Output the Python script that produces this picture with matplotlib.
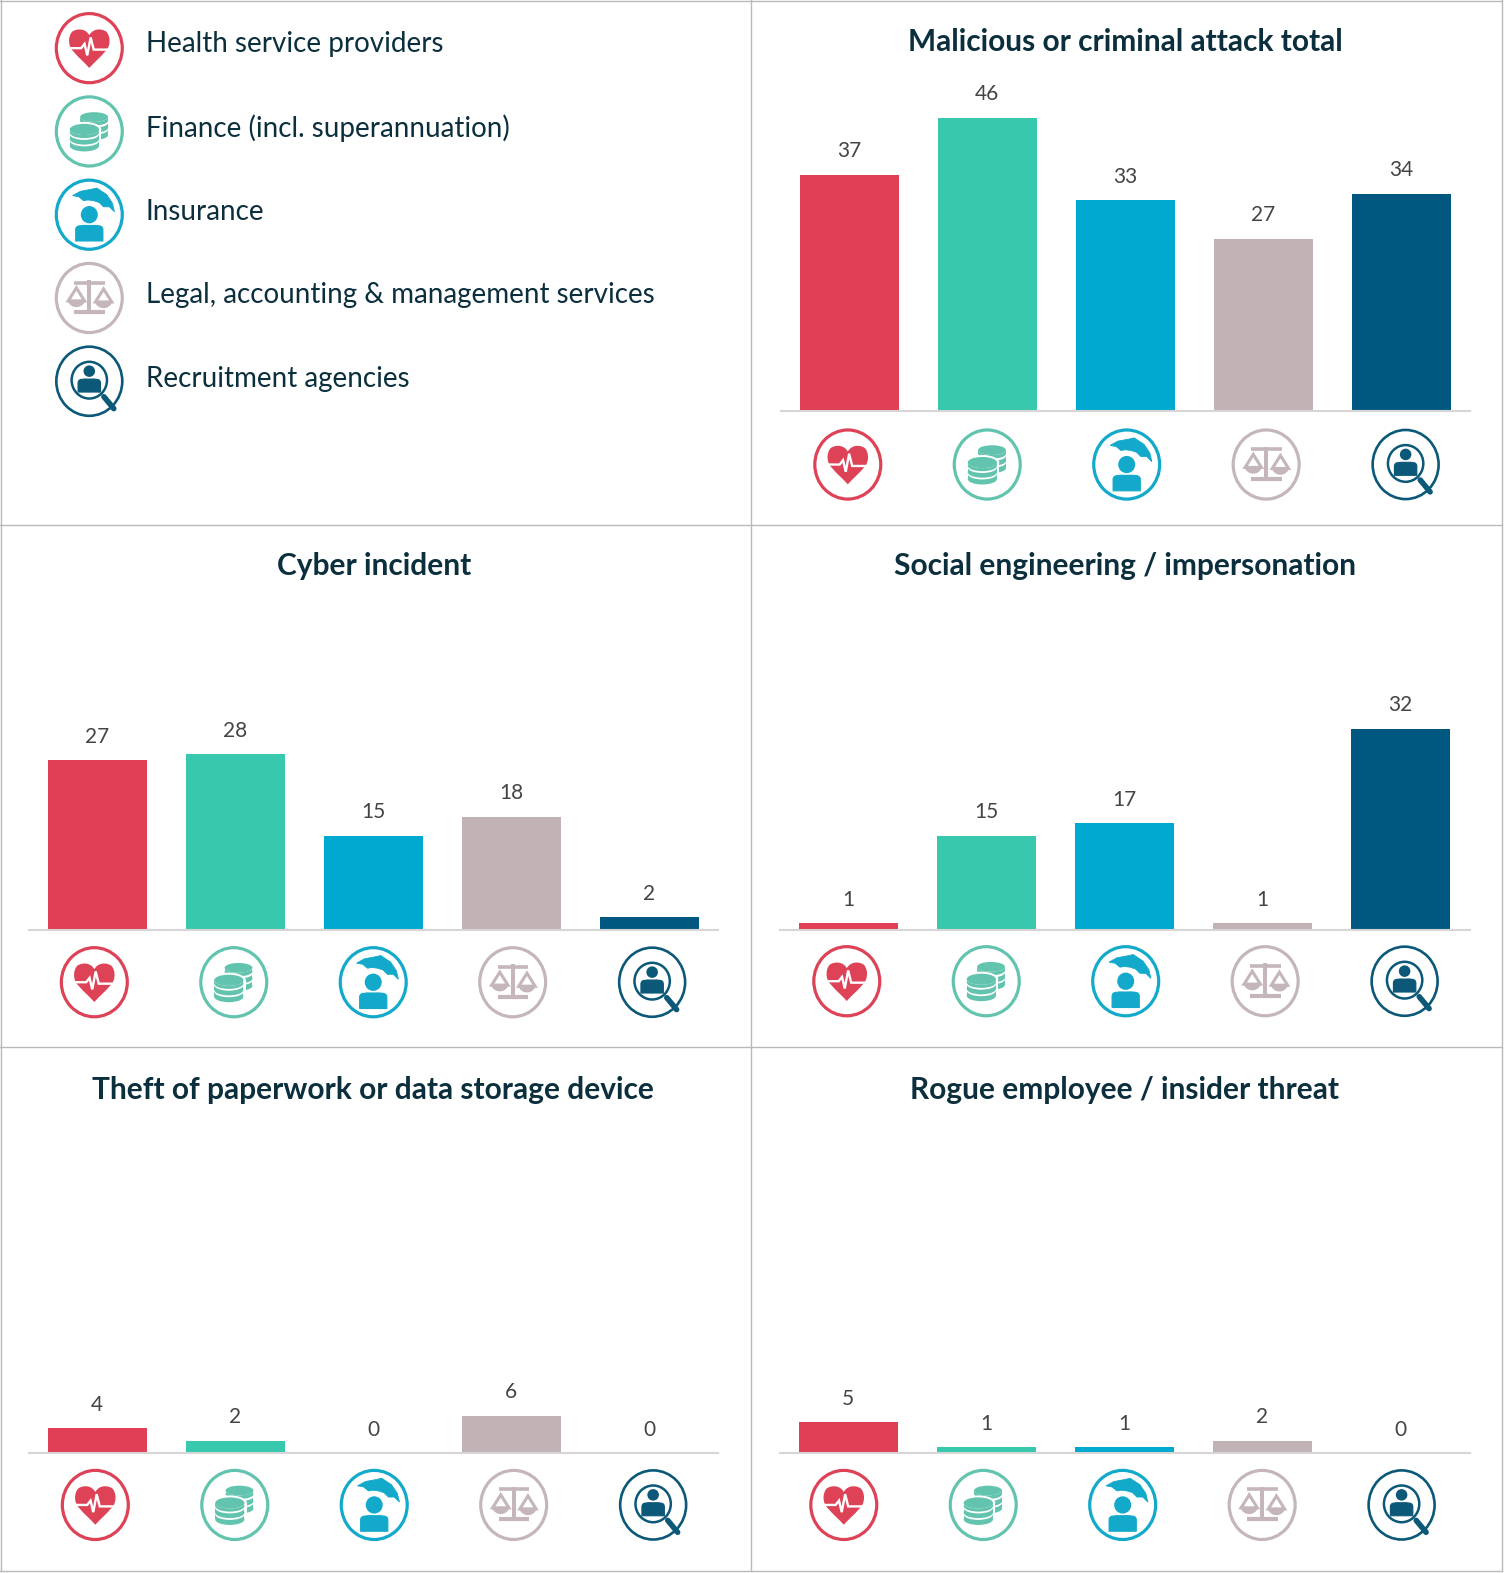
import matplotlib
matplotlib.use("Agg")
import matplotlib.pyplot as plt
from matplotlib.patches import Circle, Ellipse, Polygon, PathPatch, Rectangle
from matplotlib.path import Path

W, H = 1504, 1573
S = 1.0033  # coordinates below were measured on a slightly smaller copy

sectors = ["Health service providers", "Finance (incl. superannuation)", "Insurance",
           "Legal, accounting & management services", "Recruitment agencies"]
colors = ["#e03f55", "#38c8ae", "#00a9d0", "#c0b2b5", "#00577f"]
ring_colors = ["#dd4257", "#62c4ae", "#12a9cb", "#c4b6bb", "#0b5878"]
kinds = ["heart", "coins", "umbrella", "scales", "search"]

titles = ["Malicious or criminal attack total", "Cyber incident", "Social engineering / impersonation",
          "Theft of paperwork or data storage device", "Rogue employee / insider threat"]
malicious = [37, 46, 33, 27, 34]
cyber = [27, 28, 15, 18, 2]
social = [1, 15, 17, 1, 32]
theft = [4, 2, 0, 6, 0]
rogue = [5, 1, 1, 2, 0]
values = [malicious, cyber, social, theft, rogue]

# first bar centre, baseline, axis line start/end, title x/y, px per unit, icon x/y
layout = [
    (846.5, 409.7, 778.5, 1465, 1122, 40, 6.36, 845, 463),
    (97, 926.7, 28.5, 716, 373, 562, 6.25, 94, 979),
    (845.5, 926.7, 777.5, 1465, 1121, 562, 6.25, 844, 978),
    (97, 1448.7, 28.5, 716, 372, 1084, 6.25, 95, 1500),
    (845.5, 1448.7, 777.5, 1465, 1121, 1084, 6.25, 841, 1500),
]
step = 137.5
bar_w = 98.5 / step
icon_step = 139
icon_rx = 34
icon_ry = 36

plt.rcParams["font.family"] = ["Lato", "DejaVu Sans"]
text_col = "#0c2f3e"
fig = plt.figure(figsize=(W / 100, H / 100), dpi=100, facecolor="white")

over = fig.add_axes([0, 0, 1, 1], zorder=5)
over.set_xlim(0, W)
over.set_ylim(H, 0)
over.axis("off")
over.patch.set_alpha(0)


def draw_icon(kind, col, cx, cy, rx, ry):
    ring_lw = 1.9 if kind == "search" else 2.3
    over.add_patch(Ellipse((cx, cy), rx * 1.94, ry * 1.92, fc="white", ec=col, lw=ring_lw))

    def X(x):
        return cx + x * rx

    def Y(y):
        return cy - y * ry

    def poly(pts, fc=col, ec="none", lw=0):
        over.add_patch(Polygon([(X(a), Y(b)) for a, b in pts], closed=True, fc=fc, ec=ec, lw=lw))

    def disc(x, y, w, h, fc=col):
        over.add_patch(Ellipse((X(x), Y(y)), w * rx, h * ry, fc=fc, ec="none"))

    def body(half, top, bottom):
        # flat bottom, rounded shoulders
        pts = [(-half, bottom), (-half, top - 0.12), (-half, top + 0.02), (-half * 0.6, top), (0, top),
               (half * 0.6, top), (half, top + 0.02), (half, top - 0.12), (half, bottom), (-half, bottom)]
        codes = [Path.MOVETO, Path.LINETO, Path.CURVE4, Path.CURVE4, Path.CURVE4, Path.CURVE4, Path.CURVE4,
                 Path.CURVE4, Path.LINETO, Path.CLOSEPOLY]
        over.add_patch(PathPatch(Path([(X(a), Y(b)) for a, b in pts], codes), fc=col, ec=col, lw=0.8, joinstyle="round"))

    def stack(xc, srx, sry, levels):
        # bottom coin first so the white rim of each one shows under the next
        for top, low in reversed(levels):
            disc(xc, low, srx * 2, sry * 2)
            over.add_patch(Rectangle((X(xc - srx), Y(top)), 2 * srx * rx, (top - low) * ry, fc=col, ec="none"))
            disc(xc, top, srx * 2, sry * 2, fc="white")
        disc(xc, levels[0][0], srx * 2, sry * 2)

    if kind == "heart":
        verts = [(0, 0.36), (-0.1, 0.54), (-0.34, 0.56), (-0.5, 0.46), (-0.64, 0.32), (-0.62, 0.04), (-0.48, -0.08),
                 (-0.3, -0.28), (-0.14, -0.4), (0, -0.55), (0.14, -0.4), (0.3, -0.28), (0.48, -0.08),
                 (0.62, 0.04), (0.64, 0.32), (0.5, 0.46), (0.34, 0.56), (0.1, 0.54), (0, 0.36)]
        codes = [Path.MOVETO] + [Path.CURVE4] * 18
        over.add_patch(PathPatch(Path([(X(a), Y(b)) for a, b in verts], codes), fc=col, ec="none"))
        pulse = [(-0.6, 0.0), (-0.24, 0.0), (-0.14, 0.12), (-0.06, -0.2), (0.04, 0.3), (0.13, -0.04), (0.62, -0.04)]
        over.plot([X(a) for a, b in pulse], [Y(b) for a, b in pulse], color="white", lw=1.7, solid_joinstyle="miter")
    elif kind == "coins":
        stack(0.14, 0.41, 0.135, [(0.40, 0.30), (0.24, 0.10), (0.05, -0.10)])
        # white halo so the front stack stands off the back one
        disc(-0.145, 0.055, 1.0, 0.42, fc="white")
        over.add_patch(Rectangle((X(-0.645), Y(0.055)), 1.0 * rx, 0.5 * ry, fc="white", ec="none"))
        stack(-0.145, 0.43, 0.155, [(0.055, -0.03), (-0.08, -0.21), (-0.26, -0.40)])
    elif kind == "umbrella":
        poly([(-0.49, 0.53), (-0.26, 0.65), (0.08, 0.71), (0.22, 0.74), (0.30, 0.69), (0.51, 0.56), (0.68, 0.32),
              (0.74, 0.08), (0.59, 0.22), (0.42, 0.22), (0.29, 0.34), (0.13, 0.39), (-0.04, 0.41), (-0.17, 0.39),
              (-0.31, 0.5)], ec=col, lw=0.6)
        disc(0, 0.0, 0.5, 0.48)
        body(0.40, -0.3, -0.73)
    elif kind == "scales":
        lw = 2.6
        over.plot([X(0), X(0)], [Y(0.5), Y(-0.42)], color=col, lw=lw + 0.3, solid_capstyle="butt")
        over.plot([X(-0.44), X(0.46)], [Y(0.43), Y(0.43)], color=col, lw=lw, solid_capstyle="butt")
        over.plot([X(-0.44), X(0.46)], [Y(-0.4), Y(-0.4)], color=col, lw=lw + 0.4, solid_capstyle="butt")
        for px, dy in [(-0.38, 0.0), (0.42, -0.03)]:
            poly([(px, 0.28 + dy), (px - 0.24, -0.08 + dy), (px + 0.24, -0.08 + dy)], fc="none", ec=col, lw=2.2)
            over.add_patch(PathPatch(Path([(X(px - 0.27), Y(-0.06 + dy)), (X(px - 0.17), Y(-0.32 + dy)),
                                           (X(px + 0.17), Y(-0.32 + dy)), (X(px + 0.27), Y(-0.06 + dy))],
                                          [Path.MOVETO, Path.CURVE4, Path.CURVE4, Path.CURVE4]), fc=col, ec="none"))
    else:
        over.plot([X(0.43), X(0.72)], [Y(-0.43), Y(-0.76)], color=col, lw=4, solid_capstyle="round")
        over.add_patch(Ellipse((X(0), Y(0.03)), 1.04 * rx, 1.02 * ry, fc="white", ec=col, lw=1.8))
        disc(0, 0.28, 0.34, 0.32)
        body(0.33, 0.06, -0.3)


# panel borders
for xx in [0.5, 749 * S, 1497 * S]:
    over.plot([xx, xx], [0, 1566 * S], color="#b9b9b9", lw=1)
for yy in [0.5, 523 * S, 1044 * S, 1566 * S]:
    over.plot([0, 1497 * S], [yy, yy], color="#b9b9b9", lw=1)

# legend
for i, name in enumerate(sectors):
    cy = (48 + 83 * i) * S
    draw_icon(kinds[i], ring_colors[i], 89 * S, cy, icon_rx, icon_ry)
    over.text(145.5 * S, (44 + 83.5 * i) * S, name, fontsize=20, color=text_col, va="center", ha="left")

# bar panels
for vals, title, lay in zip(values, titles, layout):
    c0, base, x0, x1, tx, ty, px_unit, ix, iy = lay
    top = base - 50 * px_unit
    ax = fig.add_axes([x0 * S / W, 1 - base * S / H, (x1 - x0) * S / W, (base - top) * S / H])
    ax.set_xlim((x0 - c0) / step, (x1 - c0) / step)
    ax.set_ylim(0, 50)
    ax.patch.set_alpha(0)
    ax.bar(range(5), vals, width=bar_w, color=colors)
    for i, v in enumerate(vals):
        ax.annotate(str(v), (i, v), xytext=(0, 17), textcoords="offset points", ha="center", va="center",
                    fontsize=15, color="#444444")
    for side in ["top", "left", "right"]:
        ax.spines[side].set_visible(False)
    ax.spines["bottom"].set_color("#d8d5d7")
    ax.spines["bottom"].set_linewidth(1.5)
    ax.set_xticks([])
    ax.set_yticks([])
    over.text(tx * S, (ty + 2) * S, title, fontsize=21.5, fontweight="bold", color=text_col, ha="center", va="center")
    for i in range(5):
        draw_icon(kinds[i], ring_colors[i], (ix + icon_step * i) * S, iy * S, icon_rx, icon_ry)

fig.savefig("out.png", dpi=100)
